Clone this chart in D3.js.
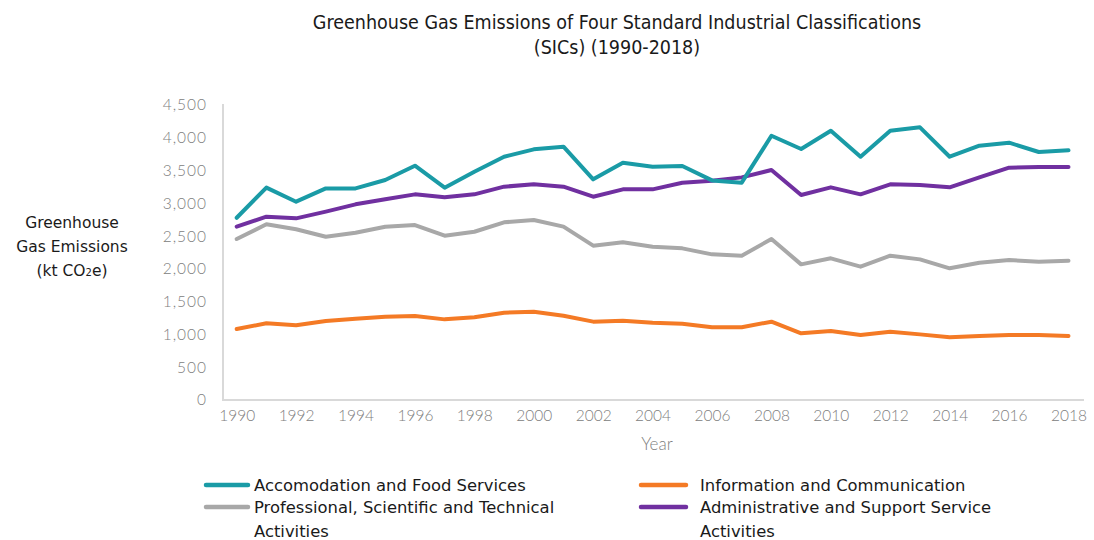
<!DOCTYPE html>
<html>
<head>
<meta charset="utf-8">
<script src="https://cdn.jsdelivr.net/npm/d3@7"></script>
<style>
  html, body { margin: 0; padding: 0; background: #fff; }
  svg { display: block; }
</style>
</head>
<body>
<svg id="chart" width="1094" height="540"></svg>
<script>
// Annual emissions, kt CO2e, by SIC section
const years = d3.range(1990, 2019);

const accommodationFood = [2780, 3240, 3025, 3228, 3228, 3356, 3574, 3239, 3483, 3711,
  3824, 3864, 3366, 3620, 3559, 3569, 3350, 3315, 4031, 3829,
  4108, 3711, 4108, 4159, 3711, 3880, 3925, 3783, 3808];

const informationComm = [1083, 1170, 1139, 1205, 1240, 1271, 1281, 1230, 1261, 1332,
  1347, 1286, 1195, 1210, 1179, 1164, 1109, 1109, 1195, 1017,
  1052, 991, 1042, 1001, 956, 976, 991, 991, 976];

const professionalSci = [2456, 2680, 2604, 2491, 2552, 2644, 2669, 2506, 2567, 2710,
  2746, 2644, 2354, 2405, 2338, 2313, 2222, 2201, 2456, 2069,
  2161, 2034, 2201, 2145, 2009, 2095, 2135, 2110, 2125];

const adminSupport = [2644, 2796, 2771, 2873, 2985, 3061, 3137, 3092, 3137, 3254,
  3290, 3254, 3101, 3213, 3213, 3315, 3345, 3396, 3508, 3127,
  3244, 3137, 3290, 3280, 3244, 3396, 3544, 3554, 3554];

const yTicks = [0, 500, 1000, 1500, 2000, 2500, 3000, 3500, 4000, 4500];
const xTicks = d3.range(1990, 2019, 2);

const series = [
  { name: "Accomodation and Food Services", values: accommodationFood, color: "#1a9ba6" },
  { name: "Information and Communication", values: informationComm, color: "#f47a25" },
  { name: "Professional, Scientific and Technical|Activities", values: professionalSci, color: "#a8a8a8" },
  { name: "Administrative and Support Service|Activities", values: adminSupport, color: "#7030a0" }
];

const svg = d3.select("#chart");
const axisColor = "#d9d9d9";
const tickFont = "Lato, 'Open Sans', sans-serif";
const textFont = "Tahoma, 'DejaVu Sans', Verdana, sans-serif";

const x = d3.scaleLinear().domain([1990, 2018]).range([236.7, 1068.5]);
const y = d3.scaleLinear().domain([0, 4500]).range([400, 105]);

// Title
const title = svg.append("text")
  .attr("x", 617)
  .attr("text-anchor", "middle")
  .attr("font-family", "'DejaVu Sans Condensed', 'DejaVu Sans', sans-serif")
  .attr("font-size", 19.5)
  .attr("fill", "#1a1a1a");
title.append("tspan").attr("x", 617).attr("y", 29).text("Greenhouse Gas Emissions of Four Standard Industrial Classifications");
title.append("tspan").attr("x", 617).attr("y", 54).text("(SICs) (1990-2018)");

// Axis lines
svg.append("line")
  .attr("x1", 223).attr("x2", 223)
  .attr("y1", 104).attr("y2", y(0))
  .attr("stroke", axisColor).attr("stroke-width", 2);
svg.append("line")
  .attr("x1", 222).attr("x2", 1084)
  .attr("y1", y(0)).attr("y2", y(0))
  .attr("stroke", axisColor).attr("stroke-width", 2);

// Y axis ticks
const yAxis = d3.axisLeft(y)
  .tickValues(yTicks)
  .tickSize(0)
  .tickPadding(0)
  .tickFormat(d3.format(","));
const yg = svg.append("g").attr("transform", "translate(207,0)").call(yAxis);
yg.select(".domain").remove();
yg.selectAll("text")
  .attr("font-family", tickFont)
  .attr("font-weight", 300)
  .attr("font-size", 15.5)
  .attr("letter-spacing", 1)
  .attr("fill", "#808080");

// X axis ticks
const xAxis = d3.axisBottom(x)
  .tickValues(xTicks)
  .tickSize(0)
  .tickPadding(0)
  .tickFormat(d3.format("d"));
const xg = svg.append("g").attr("transform", "translate(0,410)").call(xAxis);
xg.select(".domain").remove();
xg.selectAll("text")
  .attr("font-family", tickFont)
  .attr("font-weight", 300)
  .attr("font-size", 15.5)
  .attr("fill", "#808080");

// Axis titles
svg.append("text")
  .attr("x", 657).attr("y", 450)
  .attr("text-anchor", "middle")
  .attr("font-family", tickFont)
  .attr("font-weight", 300)
  .attr("font-size", 17)
  .attr("fill", "#808080")
  .text("Year");

const yTitle = svg.append("text")
  .attr("text-anchor", "middle")
  .attr("font-family", textFont)
  .attr("font-size", 15.5)
  .attr("fill", "#1a1a1a");
yTitle.append("tspan").attr("x", 72).attr("y", 228).text("Greenhouse");
yTitle.append("tspan").attr("x", 72).attr("y", 252).text("Gas Emissions");
const t3 = yTitle.append("tspan").attr("x", 72).attr("y", 276);
t3.append("tspan").text("(kt CO");
t3.append("tspan").attr("font-size", 10).text("2");
t3.append("tspan").text("e)");

// Lines
const line = d3.line()
  .x((d, i) => x(years[i]))
  .y(d => y(d));

svg.append("g")
  .selectAll("path")
  .data([series[2], series[1], series[3], series[0]])
  .join("path")
  .attr("d", d => line(d.values))
  .attr("fill", "none")
  .attr("stroke", d => d.color)
  .attr("stroke-width", 4)
  .attr("stroke-linejoin", "round")
  .attr("stroke-linecap", "round");

// Legend
const legendPos = [
  { sx: 206, tx: 254, y: 485 },
  { sx: 641, tx: 700, y: 485 },
  { sx: 206, tx: 254, y: 507 },
  { sx: 641, tx: 700, y: 507 }
];
const lg = svg.append("g");
series.forEach((s, i) => {
  const p = legendPos[i];
  const swW = i % 2 === 0 ? 42 : 45;
  lg.append("line")
    .attr("x1", p.sx).attr("x2", p.sx + swW)
    .attr("y1", p.y).attr("y2", p.y)
    .attr("stroke", s.color).attr("stroke-width", 4.5)
    .attr("stroke-linecap", "round");
  const lines = s.name.split("|");
  const t = lg.append("text")
    .attr("font-family", textFont)
    .attr("font-size", 16.4)
    .attr("fill", "#1a1a1a");
  lines.forEach((l, j) => {
    t.append("tspan")
      .attr("x", p.tx)
      .attr("y", p.y + 6 + j * 24)
      .text(l);
  });
});
</script>
</body>
</html>
